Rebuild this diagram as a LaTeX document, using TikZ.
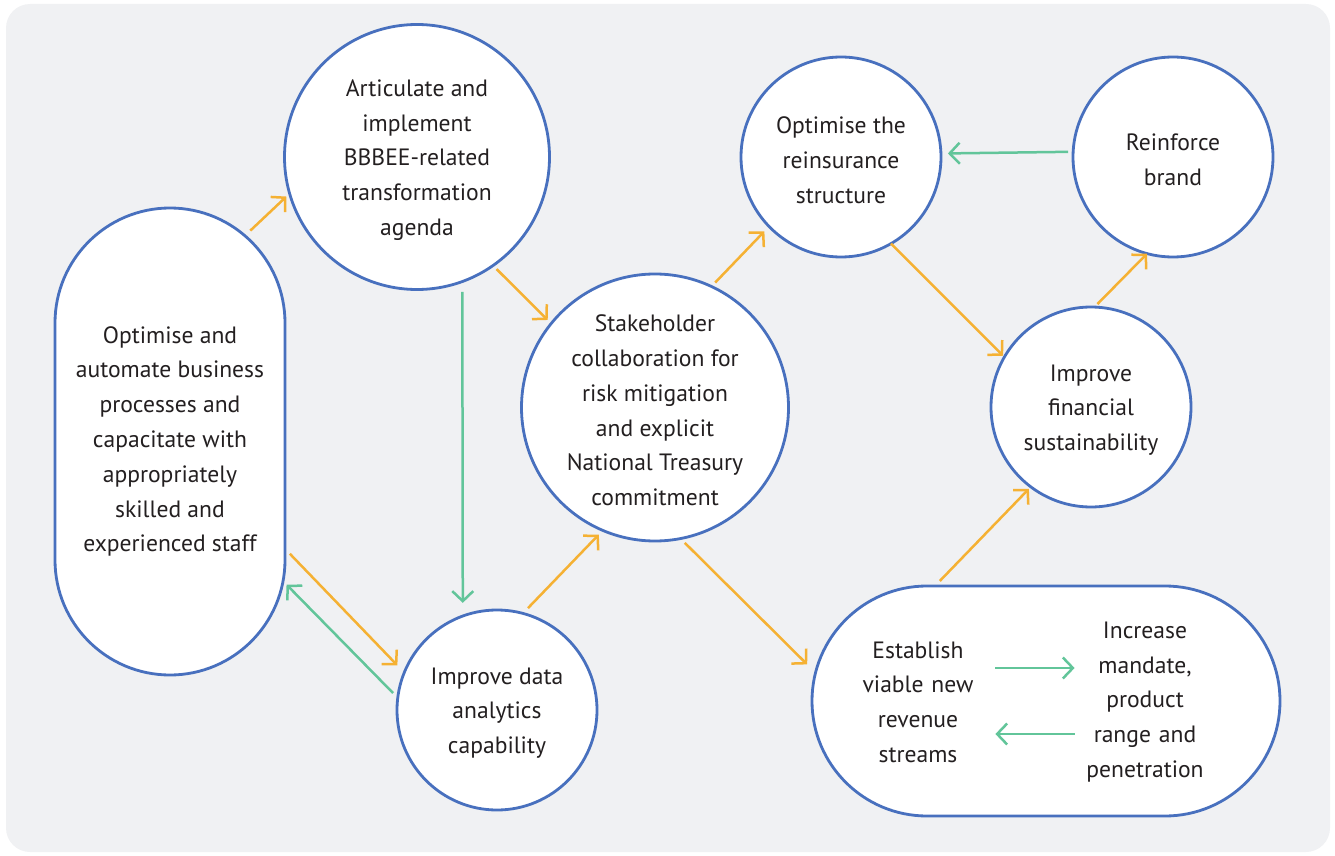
\documentclass[tikz,border=0pt]{standalone}
\usepackage{fontspec}
\setmainfont{PT Sans}
\usetikzlibrary{arrows.meta,shapes.misc}

\definecolor{panel}{RGB}{240,241,243}
\definecolor{edge}{RGB}{72,112,190}
\definecolor{amber}{RGB}{245,177,51}
\definecolor{mint}{RGB}{98,197,154}
\definecolor{ink}{RGB}{35,31,32}

\begin{document}
\begin{tikzpicture}[x=0.5pt,y=-0.5pt,
  goal/.style={circle, draw=edge, fill=white, line width=1.4pt, inner sep=0pt, outer sep=0pt},
  pill/.style={rounded rectangle, draw=edge, fill=white, line width=1.4pt, inner sep=0pt, outer sep=0pt, minimum height=115pt},
  txt/.style={align=center, text=ink, inner sep=0pt, font=\fontsize{11.8}{17.4}\selectfont},
  lbl/.style={txt, yshift=-1.5pt},
  orarr/.style={draw=amber, line width=1.25pt, -{Straight Barb[length=5pt,width=10.5pt]}},
  grarr/.style={orarr, draw=mint}
  ]

  \useasboundingbox (0,0) rectangle (1335,856);
  \fill[panel, rounded corners=12pt] (6,4) rectangle (1330,852);

  \node[pill, rotate=90, minimum width=233.5pt] (lstad) at (170,441.5) {};
  \node[txt] (lstadtxt) at (lstad) {Optimise and\\automate business\\processes and\\capacitate with\\appropriately\\skilled and\\experienced staff};

  \node[goal, minimum size=132.5pt, label={[lbl]center:{Articulate and\\implement\\BBBEE-related\\transformation\\agenda}}] (art) at (417,157) {};
  \node[goal, minimum size=133.5pt, label={[lbl]center:{Stakeholder\\collaboration for\\risk mitigation\\and explicit\\National Treasury\\commitment}}] (stk) at (655,407.5) {};
  \node[goal, minimum size=100pt, label={[lbl]center:{Improve data\\analytics\\capability}}] (dat) at (497,710) {};
  \node[goal, minimum size=100pt, label={[lbl]center:{Optimise the\\reinsurance\\structure}}] (rei) at (841,157) {};
  \node[goal, minimum size=100pt, label={[lbl]center:{Reinforce\\brand}}] (brd) at (1173,157) {};
  \node[goal, minimum size=100pt, label={[lbl]center:{Improve\\financial\\sustainability}}] (fin) at (1091,407) {};

  \node[pill, minimum width=234pt] (bstad) at (1046,701) {};
  \node[txt, text width=77pt] (est) at (918,702) {Establish\\viable new\\revenue\\streams};
  \node[txt, text width=70pt] (inc) at (1145,702) {Increase\\mandate,\\product\\range and\\penetration};

  \draw[orarr, shorten <=3.7pt, shorten >=2.2pt] (lstad.-20.6) -- (art.196.7);
  \draw[orarr, shorten <=2.5pt, shorten >=2.5pt] (art.-55.8) -- (stk.141.5);
  \draw[orarr, shorten <=3.7pt, shorten >=2.9pt] (dat.75.1) -- (stk.247.6);
  \draw[orarr, shorten <=2.7pt, shorten >=3.4pt] (stk.65.6) -- (rei.224.6);
  \draw[orarr, shorten >=0.9pt] (rei.-60.3) -- (fin.150.2);
  \draw[orarr, shorten <=2.1pt, shorten >=0.1pt] (fin.88.3) -- (brd.255.6);
  \draw[orarr, shorten <=3pt, shorten >=5.9pt] (stk.-79.3) -- (bstad.173.2);
  \draw[orarr, shorten <=3.5pt, shorten >=1.4pt] (bstad.134.75) -- (fin.233.1);
  \draw[orarr, shorten <=3.5pt, shorten >=5pt] (lstad.-133.9) -- (dat.158.3);

  \draw[grarr, shorten <=3.3pt, shorten >=2.5pt] (dat.173.4) -- (lstad.-141.8);
  \draw[grarr, shorten <=5.2pt, shorten >=6.6pt] (art.-70.1) -- (dat.110.5);
  \draw[grarr, shorten <=2.5pt, shorten >=3.5pt] (brd.177.7) -- (rei.2.3);
  \draw[grarr] ([yshift=17pt]est.east) -- ([yshift=17pt]inc.west);
  \draw[grarr] ([yshift=-16pt]inc.west) -- ([yshift=-16pt]est.east);
\end{tikzpicture}
\end{document}
